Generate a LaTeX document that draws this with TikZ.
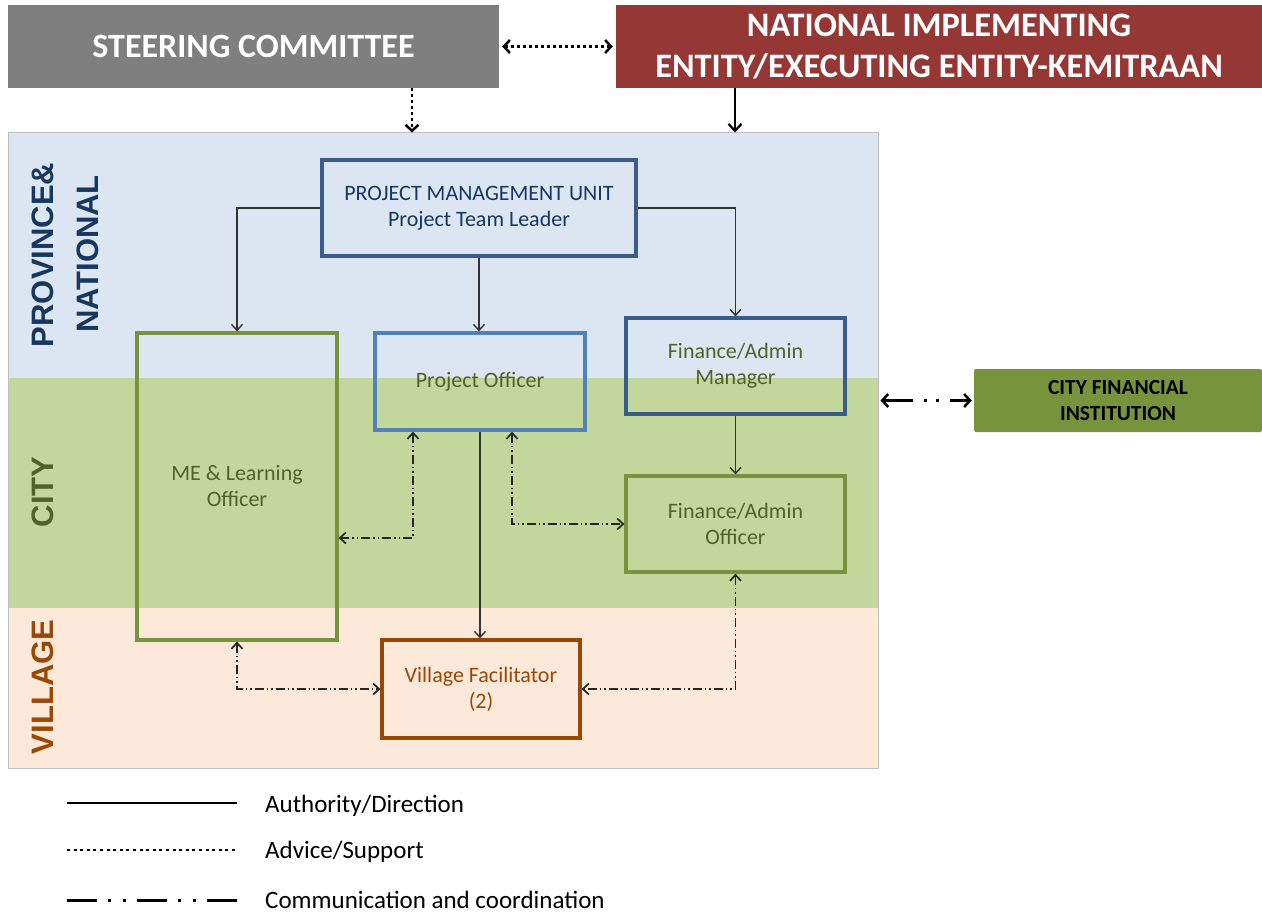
\documentclass[tikz,border=0pt]{standalone}
\usepackage{fontspec}
\setmainfont{Carlito}
\newfontfamily\bandfont{Liberation Sans}
\usetikzlibrary{arrows.meta}
\definecolor{steer}{HTML}{7F7F7F}
\definecolor{nie}{HTML}{953735}
\definecolor{bgblue}{HTML}{DCE6F2}
\definecolor{bggreen}{HTML}{C3D69B}
\definecolor{bgpeach}{HTML}{FDE9D9}
\definecolor{navy}{HTML}{17375E}
\definecolor{olivetxt}{HTML}{4F6228}
\definecolor{vbrown}{HTML}{984807}
\definecolor{dblue}{HTML}{385D8A}
\definecolor{lblue}{HTML}{4F81BD}
\definecolor{gborder}{HTML}{77933C}
\definecolor{cfifill}{HTML}{77933C}
\begin{document}
\begin{tikzpicture}[x=1pt,y=-1pt,
  orgbox/.style={draw, line width=3.2pt, inner sep=0pt, align=center,
    font=\fontsize{22}{26}\selectfont},
  header/.style={inner sep=0pt, text=white, align=center},
  bandlabel/.style={rotate=90, font=\bandfont\bfseries\fontsize{31}{36}\selectfont},
  auth/.style={draw=black!80, line width=1.4pt, -{Straight Barb[length=6pt,width=11pt]}},
  comm/.style={draw=black!85, line width=1.7pt,
    dash pattern=on 9pt off 3pt on 1.5pt off 3pt on 1.5pt off 3pt,
    {Straight Barb[length=6pt,width=11pt]}-{Straight Barb[length=6pt,width=11pt]}},
  advice/.style={draw=black, line width=2.5pt, dash pattern=on 2.5pt off 3.5pt},
  legtext/.style={anchor=west, inner sep=0pt, font=\fontsize{25}{29}\selectfont}
]
\useasboundingbox (0,0) rectangle (1262,915);
\fill[white] (0,0) rectangle (1262,915);

% bands
\fill[bgblue] (8,133) rectangle (878,378);
\fill[bggreen] (8,378) rectangle (878,608);
\fill[bgpeach] (8,608) rectangle (878,768);
\node[draw=black!25, line width=1pt, minimum width=870pt, minimum height=635pt, inner sep=0pt] (region) at (443,450.5) {};

% band labels
\node[bandlabel, text=navy] (lprov) at (43,255) {PROVINCE\&};
\node[bandlabel, text=navy] (lnat) at (88,254) {NATIONAL};
\node[bandlabel, text=olivetxt] (lcity) at (43,492) {CITY};
\node[bandlabel, text=vbrown] (lvill) at (43,687) {VILLAGE};

% headers
\node[header, fill=steer, minimum width=491pt, minimum height=83pt,
  font=\bfseries\fontsize{34}{40}\selectfont] (sc) at (253.5,46.5) {STEERING COMMITTEE};
\node[header, fill=nie, minimum width=646pt, minimum height=83pt,
  font=\bfseries\fontsize{34.3}{41}\selectfont] (nie) at (939,46.5) {NATIONAL IMPLEMENTING\\ENTITY/EXECUTING ENTITY-KEMITRAAN};

% boxes
\node[orgbox, draw=dblue, text=navy, minimum width=314pt, minimum height=96pt] (pmu) at (479,208) {PROJECT MANAGEMENT UNIT\\Project Team Leader};
\node[orgbox, draw=gborder, text=olivetxt, minimum width=200pt, minimum height=307pt] (me) at (237,486.5) {ME \& Learning\\Officer};
\node[orgbox, draw=lblue, text=olivetxt, minimum width=210pt, minimum height=97pt] (po) at (480,381.5) {Project Officer};
\node[orgbox, draw=dblue, text=olivetxt, minimum width=219pt, minimum height=96pt] (fam) at (735.5,366) {Finance/Admin\\Manager};
\node[orgbox, draw=gborder, text=olivetxt, minimum width=219pt, minimum height=96pt] (fao) at (735.5,524) {Finance/Admin\\Officer};
\node[orgbox, draw=vbrown, text=vbrown, minimum width=198pt, minimum height=98pt] (vf) at (481,689) {Village Facilitator\\(2)};
\node[fill=cfifill, rounded corners=2pt, inner sep=0pt, align=center, minimum width=288pt, minimum height=63pt,
  font=\bfseries\fontsize{21.5}{26}\selectfont] (cfi) at (1118,400.5) {CITY FINANCIAL\\INSTITUTION};

% top connectors
\draw[advice, {Straight Barb[length=6pt,width=13pt]}-{Straight Barb[length=6pt,width=13pt]}, shorten <=3pt, shorten >=3pt] (sc.east) -- (nie.west);
\draw[advice, -{Straight Barb[length=6pt,width=13pt]}] (sc.south -| 412,0) -- (region.north -| 412,0);
\draw[draw=black, line width=2.2pt, -{Straight Barb[length=7pt,width=13pt]}] (nie.south -| 735,0) -- (region.north -| 735,0);

% authority arrows
\draw[auth] (pmu.west) -| (me.north);
\draw[auth] (pmu.south) -- (pmu.south |- po.north);
\draw[auth] (pmu.east) -| (fam.north);
\draw[auth] (fam.south) -- (fao.north);
\draw[auth] (po.south) -- (po.south |- vf.north);

% communication arrows
\draw[comm] (po.south -| 413,0) -- (413,538) -- (me.east |- 0,538);
\draw[comm] (po.south -| 512,0) |- (fao.west);
\draw[comm] (me.south) |- (vf.west);
\draw[comm] (fao.south) |- (vf.east);

% city financial institution
\draw[draw=black, line width=2.5pt, dash pattern=on 30pt off 11pt on 3pt off 9pt on 3pt off 11pt on 40pt off 20pt,
  {Straight Barb[length=6pt,width=13pt]}-{Straight Barb[length=6pt,width=13pt]}, shorten <=2pt, shorten >=2pt]
  (region.east |- cfi.west) -- (cfi.west);

% legend
\node[legtext] (la) at (265,806) {Authority/Direction};
\node[legtext] (lb) at (265,852) {Advice/Support};
\node[legtext] (lc) at (265,900) {Communication and coordination};
\draw[black, line width=2.5pt] (67,803) -- (237,803);
\draw[black, line width=2.5pt, dash pattern=on 3pt off 3.6pt] (67,850) -- (237,850);
\draw[black, line width=3pt, dash pattern=on 30pt off 11pt on 3pt off 12pt on 3pt off 11pt] (67,900) -- (237,900);
\end{tikzpicture}
\end{document}
